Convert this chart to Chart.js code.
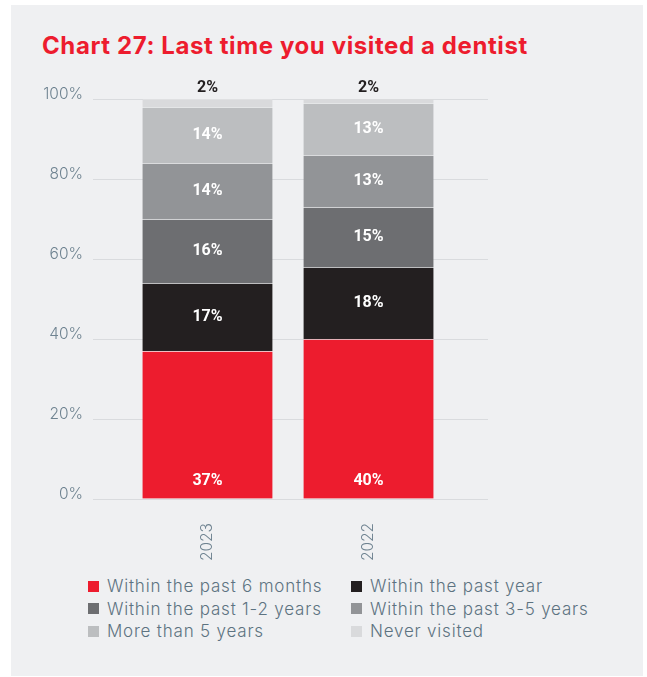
<!DOCTYPE html>
<html>
<head>
<meta charset="utf-8">
<script src="https://cdn.jsdelivr.net/npm/chart.js@4"></script>
<style>
  body { margin: 0; background: #ffffff; }
  #panel {
    position: absolute; left: 11px; top: 5px; width: 632px; height: 671px;
    background: #eff0f2;
  }
  #title {
    position: absolute; left: 42px; top: 31px; margin: 0;
    font: 700 24px Inter, sans-serif; letter-spacing: 0.6px;
    color: #ed1c2e; white-space: nowrap;
  }
  #chart { position: absolute; left: 0; top: 0; }
  #legend {
    position: absolute; left: 88px; top: 575px;
    display: grid; grid-template-columns: 263px 263px; row-gap: 0;
    font: 300 17px Inter, sans-serif; letter-spacing: 0.8px; color: #5d7381;
  }
  .item { display: flex; align-items: center; height: 22.5px; white-space: nowrap; }
  .swatch { width: 11px; height: 11px; margin-right: 8px; flex: none; }
</style>
</head>
<body>
<div id="panel"></div>
<h2 id="title">Chart 27: Last time you visited a dentist</h2>
<canvas id="chart" width="647" height="570"></canvas>
<div id="legend"></div>
<script>
// Survey years (x axis) and tick labels
const years = ['2023', '2022'];
const yTicks = [0, 20, 40, 60, 80, 100];

// Share of respondents per answer, in the order of years
const within6Months = [37, 40];
const withinYear = [17, 18];
const within1to2Years = [16, 15];
const within3to5Years = [14, 13];
const moreThan5Years = [14, 13];
const neverVisited = [2, 2];

const answers = [
  { label: 'Within the past 6 months', data: within6Months, color: '#ed1c2e', labelPos: 'bottom' },
  { label: 'Within the past year', data: withinYear, color: '#231f20', labelPos: 'center' },
  { label: 'Within the past 1-2 years', data: within1to2Years, color: '#6d6e71', labelPos: 'center' },
  { label: 'Within the past 3-5 years', data: within3to5Years, color: '#929497', labelPos: 'center' },
  { label: 'More than 5 years', data: moreThan5Years, color: '#bcbec0', labelPos: 'center' },
  { label: 'Never visited', data: neverVisited, color: '#d9dadc', labelPos: 'top' }
];

const axisColor = '#6f8391';
const axisFont = { family: 'Inter, sans-serif', size: 15.5, weight: 300 };

// Value labels: inside the segments, or above the bar for the top one
const valueLabels = {
  id: 'valueLabels',
  afterDatasetsDraw(chart) {
    const ctx = chart.ctx;
    ctx.save();
    ctx.font = '700 16px Roboto, sans-serif';
    ctx.textAlign = 'center';
    ctx.textBaseline = 'middle';
    chart.data.datasets.forEach((ds, i) => {
      chart.getDatasetMeta(i).data.forEach((el, j) => {
        const text = ds.data[j].y + '%';
        let y;
        if (ds.labelPos === 'bottom') {
          y = el.base - 18;
          ctx.fillStyle = '#ffffff';
        } else if (ds.labelPos === 'top') {
          y = Math.max(el.y, chart.chartArea.top) - 11;
          ctx.fillStyle = '#231f20';
        } else {
          y = (el.y + el.base) / 2;
          ctx.fillStyle = '#ffffff';
        }
        ctx.fillText(text, el.x, y);
      });
    });
    ctx.restore();
  }
};

new Chart(document.getElementById('chart'), {
  type: 'bar',
  data: {
    datasets: answers.map(a => ({
      label: a.label,
      data: a.data.map((v, i) => ({ x: i, y: v })),
      backgroundColor: a.color,
      borderColor: 'rgba(255,255,255,0.2)',
      borderWidth: { top: 1, left: 0, right: 0, bottom: 0 },
      borderSkipped: false,
      barThickness: 130,
      labelPos: a.labelPos
    }))
  },
  options: {
    responsive: false,
    animation: false,
    layout: { padding: { top: 99, right: 159, left: 0, bottom: 0 } },
    plugins: {
      legend: { display: false },
      tooltip: { enabled: false }
    },
    scales: {
      x: {
        type: 'linear',
        stacked: true,
        offset: false,
        min: -0.711,
        max: 1.742,
        grid: { display: false, offset: false },
        border: { display: false },
        afterBuildTicks: scale => { scale.ticks = years.map((_, i) => ({ value: i })); },
        afterFit: scale => { scale.height = 71; },
        ticks: {
          autoSkip: false,
          minRotation: 90,
          maxRotation: 90,
          padding: 16,
          color: axisColor,
          font: axisFont,
          callback: v => years[v]
        }
      },
      y: {
        stacked: true,
        min: 0,
        max: 100,
        grid: { color: '#d9dbde', drawTicks: false },
        border: { display: false },
        afterBuildTicks: scale => { scale.ticks = yTicks.map(v => ({ value: v })); },
        afterFit: scale => { scale.width = 93; },
        ticks: {
          padding: 10,
          labelOffset: -5,
          color: axisColor,
          font: axisFont,
          callback: v => v + '%'
        }
      }
    }
  },
  plugins: [valueLabels]
});

// Two-column legend built from the same answer list
const legend = document.getElementById('legend');
answers.forEach(a => {
  const item = document.createElement('div');
  item.className = 'item';
  const sw = document.createElement('span');
  sw.className = 'swatch';
  sw.style.background = a.color;
  item.appendChild(sw);
  item.appendChild(document.createTextNode(a.label));
  legend.appendChild(item);
});
</script>
</body>
</html>
